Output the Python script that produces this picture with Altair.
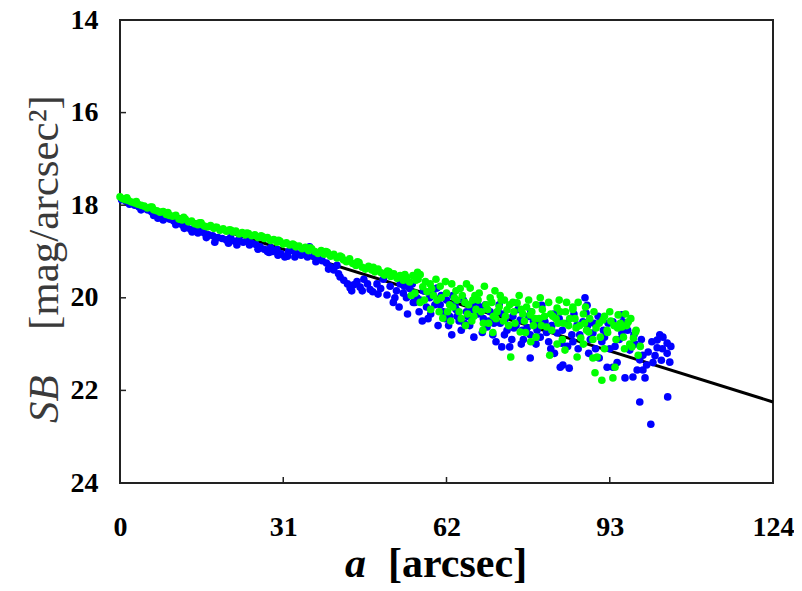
import altair as alt
import pandas as pd

# ---- data ----
green_a = [0.0, 0.5, 1.0, 1.6, 2.2, 2.8, 3.4, 4.0, 4.6, 5.2, 5.8, 6.4, 7.0, 7.6, 8.2, 8.8, 9.4, 10.0,
           10.6, 11.2, 11.8, 12.4, 13.0, 13.6, 14.2, 14.8, 15.4, 16.0, 16.6, 17.2, 17.8, 18.4, 19.0,
           19.6, 20.2, 20.8, 21.4, 22.0, 22.6, 23.2, 23.8, 24.4, 25.0, 25.6, 26.2, 26.8, 27.4, 28.0,
           28.6, 29.2, 29.8, 30.4, 31.0, 31.6, 32.2, 32.8, 33.4, 34.0, 34.6, 35.2, 35.8, 36.4, 37.0,
           37.6, 38.2, 38.8, 39.4, 40.0, 40.6, 41.2, 41.8, 42.4, 43.0, 43.6, 44.2, 44.8, 45.4, 46.0,
           46.6, 47.2, 47.8, 48.4, 49.0, 49.6, 50.2, 50.8, 51.4, 52.0, 52.6, 53.2, 53.8, 54.4, 55.0,
           55.6, 56.2, 57.0, 57.5, 58.3, 58.9,
           59.5, 60.2, 60.8, 61.3, 62.0, 62.6, 63.2, 63.8, 64.4, 65.0, 65.5, 66.0, 66.5, 67.0, 67.6,
           68.2, 68.9, 69.5, 70.3, 70.9, 71.6, 72.2, 72.8, 73.5, 74.2, 74.6, 75.4, 76.0, 76.5, 77.2,
           77.9, 78.5, 79.0, 79.6, 80.2, 81.0, 81.6, 82.2, 83.0, 83.6, 84.2, 84.8, 85.4, 86.0, 86.8,
           87.3, 88.0, 88.6, 89.2, 89.8, 90.2, 90.6, 91.0, 91.5, 92.0, 92.6, 93.2, 93.6, 94.0, 94.5,
           95.0, 95.6, 96.2, 96.8, 97.5, 98.0, 98.4, 98.8,
           84.5, 86.0, 87.5, 89.0, 91.7, 92.5, 94.6, 95.3, 96.5, 97.2, 97.9, 89.8,
           56.0, 57.0, 58.0, 59.0, 60.0, 61.0, 62.2, 63.0, 64.0, 64.8, 65.8, 66.8, 67.4, 68.6, 69.2,
           70.0, 70.6, 71.2, 72.0, 73.0, 73.8, 74.8, 75.8, 76.8, 77.6, 78.2, 79.0, 79.8, 80.6, 81.4,
           82.0, 82.8, 83.4, 84.0, 85.2, 86.4, 87.0, 88.2, 90.0, 91.2, 93.0, 94.2, 96.0, 97.0, 92.0,
           88.0, 83.0, 78.0,
           1.3, 3.1, 6.1, 9.1, 12.1, 15.1, 18.1, 21.1, 24.1, 27.1, 30.1, 33.1, 36.1, 39.1, 42.1,
           45.1, 48.1, 51.1, 54.1, 56.5,
           55.3, 56.6, 57.8, 59.2, 60.6, 61.8, 62.8, 63.5, 64.6, 65.6, 66.2, 67.2, 68.0, 69.0, 69.8,
           70.8, 71.4, 72.4, 73.2, 74.0, 75.0, 76.2, 77.0, 78.8, 80.0, 81.8, 83.2, 84.6, 86.6, 88.4,
           90.4, 93.8, 95.8]
green_sb = [17.82, 17.86, 17.88, 17.9, 17.93, 17.95, 17.98, 18.0, 18.02, 18.06, 18.04, 18.1, 18.12,
            18.15, 18.14, 18.2, 18.22, 18.24, 18.22, 18.3, 18.32, 18.3, 18.36, 18.34, 18.4, 18.42,
            18.38, 18.45, 18.47, 18.44, 18.5, 18.48, 18.54, 18.51, 18.56, 18.53, 18.58, 18.56, 18.62,
            18.59, 18.64, 18.61, 18.66, 18.64, 18.7, 18.66, 18.72, 18.7, 18.76, 18.74, 18.8, 18.78,
            18.84, 18.81, 18.86, 18.84, 18.9, 18.88, 18.94, 18.91, 18.98, 18.94, 19.0, 19.04, 18.98,
            19.06, 19.02, 19.1, 19.06, 19.14, 19.1, 19.18, 19.22, 19.16, 19.26, 19.3, 19.24, 19.34,
            19.38, 19.32, 19.4, 19.44, 19.38, 19.46, 19.51, 19.42, 19.54, 19.48, 19.58, 19.52, 19.62,
            19.56, 19.66, 19.52, 19.62, 19.5, 19.76, 19.87, 19.7,
            19.95, 20.05, 19.75, 20.44, 19.9, 20.15, 20.2, 19.85, 20.3, 19.95, 20.1, 20.35, 19.79,
            20.05, 20.25, 19.9, 20.7, 20.15, 20.0, 20.4, 20.3, 19.95, 20.5, 20.26, 21.28, 20.1, 20.11,
            20.74, 20.35, 20.2, 20.37, 20.6, 20.15, 20.45, 20.25, 20.63, 21.24, 20.4, 20.22, 20.3,
            20.55, 20.1, 20.45, 20.25, 21.28, 20.6, 20.35, 20.7, 20.45, 20.9, 21.62, 21.28, 20.55,
            21.78, 20.4, 20.75, 20.5, 21.73, 21.5, 20.65, 20.55, 20.85, 20.6, 21.0, 20.87, 20.7,
            21.24, 21.05,
            21.13, 20.2, 20.87, 20.74, 20.48, 20.7, 20.37, 20.63, 20.52, 21.06, 20.74, 21.3,
            19.9, 20.1, 19.65, 20.25, 19.6, 20.0, 20.3, 19.7, 20.05, 20.45, 19.7, 20.5, 19.95, 20.3,
            19.75, 20.55, 20.1, 19.85, 20.2, 20.05, 20.6, 20.3, 19.95, 20.5, 20.05, 20.3, 20.85, 20.0,
            20.4, 20.1, 20.7, 20.45, 20.05, 20.9, 20.6, 20.45, 20.1, 20.55, 20.3, 20.85, 20.3, 20.9,
            20.35, 20.45, 21.1, 21.0, 21.0, 20.95,
            17.84, 17.92, 18.04, 18.16, 18.26, 18.38, 18.48, 18.54, 18.6, 18.68, 18.76, 18.86, 18.92,
            19.0, 19.12, 19.22, 19.34, 19.44, 19.5, 19.45,
            19.95, 19.6, 20.05, 19.8, 20.3, 19.65, 20.5, 20.0, 19.8, 20.6, 20.15, 20.4, 20.05, 20.55,
            20.25, 20.75, 20.45, 20.05, 20.4, 20.15, 20.55, 20.25, 20.75, 20.45, 20.6, 20.35, 20.55,
            20.3, 20.65, 20.2, 20.65, 20.6, 21.1]

blue_a = [0.3, 1.2, 2.0, 2.8, 3.6, 4.4, 5.2, 6.0, 6.8, 7.2, 7.8, 8.6, 9.4, 10.2, 11.0, 11.8, 12.6,
          13.4, 13.7, 14.4, 15.2, 16.0, 16.8, 17.6, 18.0, 18.6, 19.4, 20.2, 21.0, 21.8, 22.6, 23.4,
          24.2, 25.0, 25.8, 26.6, 27.4, 28.0, 28.6, 29.0, 29.8, 30.6, 31.3, 32.0, 32.8, 33.6, 34.4,
          35.2, 36.0, 36.8, 37.6, 38.4, 39.2, 39.9, 40.6, 41.2, 41.8, 42.5, 43.2, 43.7, 44.4, 45.0,
          45.6, 46.3, 47.0, 47.5, 48.0, 48.8, 49.5, 50.0, 50.7, 51.3, 51.9, 52.5, 53.2, 53.8, 54.4,
          55.0, 55.7, 56.4, 57.0, 57.6, 58.2, 58.8, 59.4, 60.2, 60.8, 61.4, 62.0, 62.6, 63.2, 63.8,
          64.4, 65.2, 65.8, 66.4, 67.0, 67.8, 68.4, 69.0, 69.7, 70.3, 71.0, 71.8, 72.2, 72.5, 73.0,
          73.5, 74.0, 74.6, 75.2, 76.0, 76.6, 77.3, 77.9, 77.9, 78.5, 79.2, 79.8, 80.1, 80.7, 81.4,
          82.0, 82.5, 83.0, 83.6, 83.9, 84.1, 84.9, 85.3, 85.8, 86.8, 87.3, 87.9, 88.3, 88.5, 88.7,
          89.3, 89.8, 90.3, 90.8, 91.5, 92.5, 92.7, 93.6, 93.6, 94.4, 95.3, 95.3, 95.5, 95.9, 96.8,
          97.4, 98.2, 98.7, 98.7, 99.3, 99.3, 99.7, 100.3, 100.8, 101.0, 101.2, 102.0, 102.0, 102.5,
          103.1, 103.9, 103.9, 104.0, 104.4,
          55.5, 56.8, 58.5, 59.8, 61.0, 62.4, 63.6, 64.8, 66.0, 67.2, 68.0, 69.4, 70.8, 72.0, 73.2,
          74.4, 75.6, 76.4, 78.0, 79.0, 80.4, 81.0, 82.4, 84.0, 85.0, 86.2, 87.0, 88.8, 90.0, 91.0,
          92.0, 93.0, 94.8, 96.4, 97.8, 99.0, 100.0, 101.6, 103.0, 104.6, 102.8,
          1.8, 4.0, 6.4, 8.2, 10.6, 12.2, 14.8, 16.4, 18.2, 20.6, 22.2, 24.6, 26.2, 28.3, 30.0,
          31.8, 33.2, 35.6, 37.2, 39.6, 41.5, 44.0, 46.0, 49.0, 52.2, 54.0,
          53.0, 54.6, 56.0, 57.4, 59.0, 60.4, 61.8, 63.0, 64.0, 65.4, 66.8, 68.8, 70.0, 71.4, 72.8,
          74.8, 76.2, 77.6, 79.6, 81.8, 83.4, 86.0, 89.0, 91.8, 94.0, 96.0, 97.6]
blue_sb = [17.88, 17.92, 17.96, 18.0, 18.04, 18.06, 18.1, 18.14, 18.2, 18.28, 18.22, 18.26, 18.3,
           18.34, 18.38, 18.42, 18.48, 18.52, 18.58, 18.5, 18.56, 18.6, 18.64, 18.66, 18.8, 18.7,
           18.72, 18.75, 18.7, 18.78, 18.74, 18.8, 18.78, 18.82, 18.85, 18.9, 18.95, 19.0, 18.92,
           19.0, 18.96, 19.05, 19.12, 19.0, 18.98, 19.05, 19.08, 19.02, 18.9, 19.1, 19.15, 19.2,
           19.25, 19.33, 19.4, 19.3, 19.55, 19.62, 19.7, 19.79, 19.72, 19.65, 19.77, 19.6, 19.7,
           19.82, 19.87, 19.7, 19.8, 19.6, 19.94, 19.75, 20.1, 19.85, 19.7, 19.9, 20.0, 19.8, 20.1,
           20.0, 20.05, 19.85, 20.2, 20.0, 19.9, 19.79, 20.15, 20.3, 20.05, 20.4, 19.95, 20.25, 20.5,
           20.05, 20.3, 20.6, 20.15, 20.09, 20.2, 20.45, 20.63, 20.3, 20.55, 20.3, 20.55, 21.06,
           20.8, 20.7, 21.06, 20.4, 20.6, 20.48, 20.9, 20.65, 20.8, 21.3, 20.5, 20.7, 20.85, 20.16,
           20.52, 20.95, 20.6, 21.2, 20.76, 21.5, 20.98, 21.45, 20.55, 21.52, 20.8, 20.59, 20.8,
           20.52, 20.0, 20.33, 20.16, 20.9, 20.76, 21.1, 20.4, 20.95, 21.5, 20.55, 20.52, 21.5, 21.4,
           20.37, 20.76, 20.52, 21.73, 21.13, 21.71, 21.56, 21.34, 22.25, 21.24, 21.56, 21.73, 21.17,
           22.73, 20.95, 21.4, 21.08, 20.91, 20.8, 20.85, 20.98, 21.2, 22.14, 21.39,
           19.7, 20.3, 20.45, 20.15, 19.95, 20.6, 20.15, 20.7, 20.4, 20.85, 20.35, 20.15, 20.8, 20.15,
           20.45, 20.9, 20.25, 20.7, 20.3, 21.0, 20.45, 20.75, 20.35, 20.7, 21.05, 20.35, 21.1, 20.6,
           20.55, 21.3, 20.85, 21.1, 20.9, 20.7, 21.0, 20.9, 21.45, 21.25, 21.1, 21.05, 21.35,
           17.98, 18.1, 18.22, 18.32, 18.42, 18.5, 18.6, 18.7, 18.72, 18.82, 18.86, 18.86, 18.95,
           19.02, 19.08, 19.1, 19.12, 19.12, 19.22, 19.38, 19.48, 19.85, 19.85, 19.92, 20.0, 19.75,
           20.2, 20.35, 20.1, 20.5, 20.35, 20.6, 20.45, 20.8, 20.4, 20.55, 20.25, 20.75, 20.5, 20.95,
           20.35, 20.65, 21.0, 20.4, 20.6, 21.1, 20.45, 20.95, 21.2, 20.7, 21.05, 20.55, 20.8]

fit_a = [0, 124]
fit_sb = [17.85, 22.25]

x_ticks = [0, 31, 62, 93, 124]
y_ticks = [14, 16, 18, 20, 22, 24]
x_inner_ticks = [31, 62, 93]
y_inner_ticks = [16, 18, 20, 22]

# ---- tables ----
green_df = pd.DataFrame({"a": green_a, "sb": green_sb})
blue_df = pd.DataFrame({"a": blue_a, "sb": blue_sb})
fit_df = pd.DataFrame({"a": fit_a, "sb": fit_sb})

W, H = 653, 463
FONT = "Liberation Serif"

xscale = alt.Scale(domain=[0, 124], nice=False, zero=False)
yscale = alt.Scale(domain=[14, 24], nice=False, zero=False, reverse=True)

xaxis = alt.Axis(values=x_ticks, title=None, tickSize=0, labelPadding=30, grid=False,
                 domain=False, labelFlush=False, labelOverlap=False,
                 labelFont=FONT, labelFontSize=28, labelFontWeight="bold", labelColor="black")
yaxis = alt.Axis(values=y_ticks, title=None, tickSize=0, labelPadding=22, grid=False,
                 domain=False, labelFlush=False, labelOverlap=False,
                 labelFont=FONT, labelFontSize=28, labelFontWeight="bold", labelColor="black")

X = alt.X("a:Q", scale=xscale, axis=xaxis)
Y = alt.Y("sb:Q", scale=yscale, axis=yaxis)

fit = alt.Chart(fit_df).mark_line(color="black", strokeWidth=3).encode(x=X, y=Y)

blue = alt.Chart(blue_df).mark_circle(size=58, color="#0000FF", opacity=1).encode(x=X, y=Y)

green = alt.Chart(green_df).mark_circle(size=58, color="#00FF00", opacity=1).encode(x=X, y=Y)

ytick_marks = alt.Chart(pd.DataFrame({"sb": y_inner_ticks})).mark_rule(
    color="#222222", strokeWidth=1.5).encode(
    y=Y, x=alt.value(0), x2=alt.value(6),
)
xtick_marks = alt.Chart(pd.DataFrame({"a": x_inner_ticks})).mark_rule(
    color="#222222", strokeWidth=1.5).encode(
    x=X, y=alt.value(H), y2=alt.value(H - 6),
)

def label(txt, x, y, size, weight="normal", style="normal", angle=0, color="black"):
    return alt.Chart(pd.DataFrame({"t": [txt]})).mark_text(
        font=FONT, fontSize=size, fontWeight=weight, fontStyle=style, angle=angle,
        align="left", baseline="alphabetic", color=color,
    ).encode(text="t:N", x=alt.value(x), y=alt.value(y))

xt1 = label("a", 225, 557, 42, weight="bold", style="italic")
xt2 = label("[arcsec]", 268, 557, 42, weight="bold")
yt1 = label("SB", -62, 403, 43, style="italic", angle=270, color="#3a3a3a")
yt2 = label("[mag/arcsec²]", -62, 310, 43, angle=270, color="#3a3a3a")

chart = alt.layer(
    fit, blue, green, ytick_marks, xtick_marks, xt1, xt2, yt1, yt2
).properties(
    width=W, height=H,
    autosize=alt.AutoSizeParams(type="none"),
    padding={"left": 112, "top": 12, "right": 21, "bottom": 104},
    background="white",
).configure_view(stroke="#222222", strokeWidth=2)

chart.save("out.html", embed_options={"renderer": "svg", "actions": False})
